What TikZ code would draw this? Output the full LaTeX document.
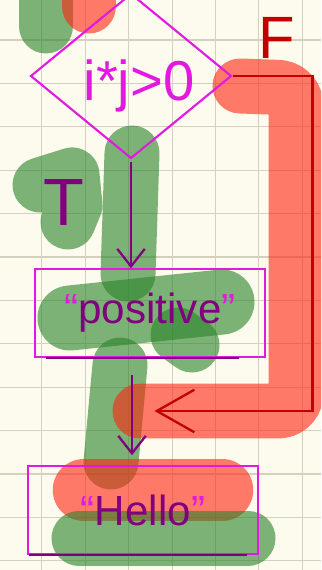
\documentclass[tikz,border=0pt]{standalone}
\usepackage{fontspec}
\setmainfont{Liberation Sans}
\usetikzlibrary{shapes.geometric,arrows.meta}
\definecolor{paper}{RGB}{253,251,237}
\definecolor{gridc}{RGB}{214,208,192}
\definecolor{hgreen}{RGB}{40,130,40}
\definecolor{hred}{RGB}{255,35,15}
\definecolor{pen}{RGB}{225,25,225}
\definecolor{ink}{RGB}{128,0,128}
\definecolor{redink}{RGB}{195,0,0}
\begin{document}
\begin{tikzpicture}[x=0.02cm, y=-0.02cm,
  gridline/.style={draw=gridc, line width=0.6pt},
  hlgreen/.style={line width=1.1cm, line cap=round, line join=round, draw=hgreen, opacity=0.6},
  hlred/.style={line width=1.1cm, line cap=round, line join=round, draw=hred, opacity=0.6},
  decision/.style={diamond, draw=pen, line width=1.2pt, minimum width=4.02cm, minimum height=3.3cm, inner sep=0pt},
  stmt/.style={rectangle, draw=pen, line width=1.2pt, minimum width=4.6cm, minimum height=1.75cm, text=ink, font=\fontsize{24}{26}\selectfont},
  flow/.style={-{Straight Barb[length=0.35cm, width=0.55cm]}, draw=ink, line width=1.3pt},
  back/.style={-{Straight Barb[length=0.75cm, width=0.85cm]}, draw=redink, line width=1.3pt}]
  \fill[paper] (0,0) rectangle (321,570);
  \clip (0,0) rectangle (321,570);
  \foreach \i in {0,...,6} \draw[gridline] (41.7+43.45*\i,0) -- (41.7+43.45*\i,570);
  \foreach \i in {0,...,12} \draw[gridline] (0,40+43.4*\i) -- (321,40+43.4*\i);
  \draw[hlgreen] (46,-20) -- (46,26);
  \draw[hlred] (89,-20) -- (89,6);
  \draw[hlgreen] (132,153) -- (128,274);
  \draw[hlgreen] (40,185) -- (72,175) -- (75,205) -- (68,222);
  \draw[hlgreen, line width=1.3cm] (70,318) -- (222,302);
  \draw[hlgreen] (178,335) -- (192,345);
  \draw[hlgreen] (120,365) -- (111,462);
  \draw[hlred, rounded corners=10pt] (240,86) -- (296,88) -- (296,411) -- (140,411);
  \draw[hlred, line width=1.25cm] (84,490) -- (222,490);
  \draw[hlgreen] (79,538) -- (248,538);
  \node[decision] (cond) at (131,76) {};
  \node[text=pen, font=\fontsize{32}{34}\selectfont] (condtxt) at (139,86) {i*j>0};
  \node[stmt] (pos) at (150,313) {{\color{pen}“}positive{\color{pen}”}};
  \node[stmt] (hello) at (143,510) {{\color{pen}“}Hello{\color{pen}”}};
  \draw[ink, line width=1.2pt, shorten <=0.25cm, shorten >=0.55cm] (pos.south west) -- (pos.south east);
  \draw[ink, line width=1.2pt, shorten <=0.05cm, shorten >=0.25cm] (hello.south west) -- (hello.south east);
  \node[text=ink, font=\fontsize{38}{40}\selectfont] (tlabel) at (64,203) {T};
  \node[text=redink, font=\fontsize{34}{36}\selectfont] (flabel) at (277,38) {F};
  \coordinate (join) at (132,411);
  \draw[flow, shorten <=0.05cm] (cond.south) -- (cond.south |- pos.north);
  \draw[flow, shorten <=0.35cm, shorten >=0.2cm] (join |- pos.south) -- (join |- hello.north);
  \draw[back] (cond.east) -- ++(80,0) |- ([xshift=0.45cm]join);
\end{tikzpicture}
\end{document}
